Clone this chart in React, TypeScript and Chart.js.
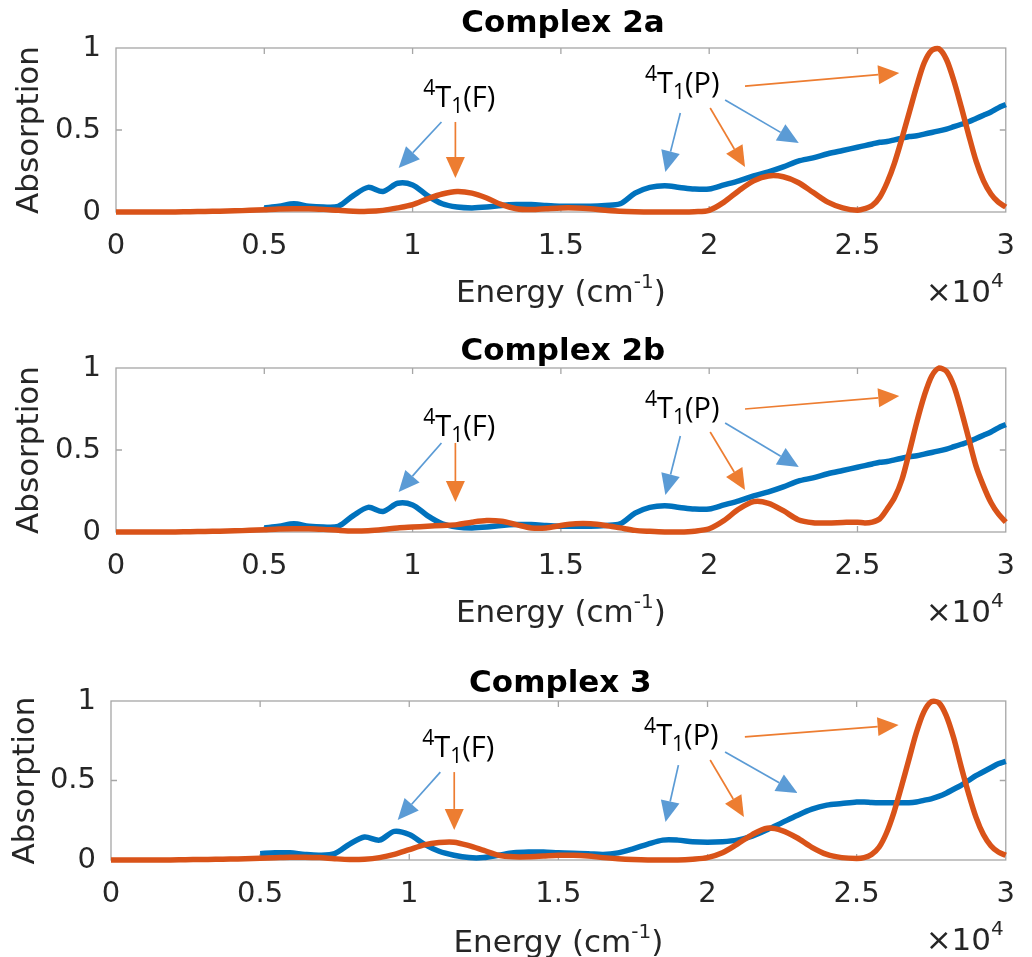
import React, { useEffect, useRef } from 'react';
import { Chart, registerables } from 'chart.js';

Chart.register(...registerables);

// Energy grid (cm^-1)
const energy = [
  0, 500, 1000, 1500, 2000, 2500, 3000, 3500, 4000, 4500,
  5000, 5500, 6000, 6500, 7000, 7500, 8000, 8500, 9000, 9500,
  10000, 10500, 11000, 11500, 12000, 12500, 13000, 13500, 14000, 14500,
  15000, 15500, 16000, 16500, 17000, 17500, 18000, 18500, 19000, 19500,
  20000, 20500, 21000, 21500, 22000, 22500, 23000, 23500, 24000, 24500,
  25000, 25250, 25500, 25750, 26000, 26250, 26500, 26750, 27000, 27250,
  27500, 27750, 28000, 28250, 28500, 28750, 29000, 29250, 29500, 29750,
  30000,
];

// Complex 2a
const blue2a = [
  null, null, null, null, null, null, null, null, null, null,
  0.025, 0.035, 0.05, 0.035, 0.03, 0.035, 0.1, 0.15, 0.125, 0.175,
  0.165, 0.1, 0.05, 0.03, 0.025, 0.03, 0.04, 0.045, 0.045, 0.04,
  0.035, 0.035, 0.035, 0.04, 0.05, 0.115, 0.15, 0.16, 0.15, 0.14,
  0.14, 0.165, 0.19, 0.22, 0.245, 0.275, 0.31, 0.33, 0.355, 0.375,
  0.395, 0.405, 0.415, 0.425, 0.43, 0.44, 0.45, 0.46, 0.465, 0.475,
  0.485, 0.495, 0.505, 0.52, 0.535, 0.55, 0.57, 0.59, 0.61, 0.635,
  0.655,
];
const orange2a = [
  0, 0, 0, 0, 0, 0.002, 0.003, 0.005, 0.007, 0.01,
  0.014, 0.018, 0.02, 0.02, 0.016, 0.01, 0.005, 0.004, 0.01, 0.025,
  0.045, 0.08, 0.11, 0.125, 0.115, 0.085, 0.045, 0.02, 0.015, 0.02,
  0.025, 0.025, 0.02, 0.01, 0.005, 0.002, 0, 0, 0, 0.002,
  0.01, 0.06, 0.13, 0.19, 0.22, 0.215, 0.18, 0.12, 0.06, 0.025,
  0.01, 0.02, 0.04, 0.09, 0.18, 0.3, 0.45, 0.61, 0.77, 0.91,
  0.985, 0.995, 0.93, 0.8, 0.64, 0.47, 0.31, 0.19, 0.11, 0.06,
  0.03,
];

// Complex 2b
const blue2b = [
  null, null, null, null, null, null, null, null, null, null,
  0.025, 0.035, 0.05, 0.035, 0.03, 0.035, 0.1, 0.15, 0.125, 0.175,
  0.165, 0.1, 0.05, 0.03, 0.025, 0.03, 0.04, 0.045, 0.045, 0.04,
  0.035, 0.035, 0.035, 0.04, 0.05, 0.115, 0.15, 0.16, 0.15, 0.14,
  0.14, 0.165, 0.19, 0.22, 0.245, 0.275, 0.31, 0.33, 0.355, 0.375,
  0.395, 0.405, 0.415, 0.425, 0.43, 0.44, 0.45, 0.46, 0.465, 0.475,
  0.485, 0.495, 0.505, 0.52, 0.535, 0.55, 0.57, 0.59, 0.61, 0.635,
  0.655,
];
const orange2b = [
  0, 0, 0, 0, 0, 0.002, 0.003, 0.005, 0.007, 0.01,
  0.014, 0.018, 0.02, 0.02, 0.016, 0.01, 0.006, 0.008, 0.015, 0.025,
  0.03, 0.035, 0.04, 0.045, 0.06, 0.07, 0.065, 0.045, 0.025, 0.025,
  0.04, 0.05, 0.05, 0.04, 0.025, 0.01, 0.004, 0, 0, 0.005,
  0.02, 0.07, 0.14, 0.185, 0.175, 0.13, 0.075, 0.057, 0.055, 0.058,
  0.06, 0.055, 0.06, 0.08, 0.14, 0.21, 0.32, 0.49, 0.67, 0.83,
  0.95, 1.0, 0.98, 0.89, 0.74, 0.57, 0.4, 0.28, 0.18, 0.11,
  0.06,
];

// Complex 3
const blue3 = [
  null, null, null, null, null, null, null, null, null, null,
  0.04, 0.045, 0.045, 0.035, 0.03, 0.04, 0.1, 0.145, 0.125, 0.18,
  0.16, 0.1, 0.055, 0.03, 0.015, 0.015, 0.03, 0.045, 0.05, 0.05,
  0.045, 0.042, 0.04, 0.035, 0.045, 0.07, 0.1, 0.125, 0.125, 0.115,
  0.112, 0.115, 0.125, 0.15, 0.19, 0.235, 0.28, 0.32, 0.345, 0.355,
  0.365, 0.365, 0.362, 0.36, 0.36, 0.36, 0.36, 0.36, 0.365, 0.375,
  0.385, 0.4, 0.42, 0.445, 0.47, 0.5, 0.53, 0.555, 0.58, 0.605,
  0.62,
];
const orange3 = [
  0, 0, 0, 0, 0, 0.002, 0.003, 0.004, 0.006, 0.008,
  0.011, 0.014, 0.017, 0.018, 0.015, 0.008, 0.003, 0.005, 0.015, 0.035,
  0.065, 0.095, 0.11, 0.112, 0.09, 0.06, 0.03, 0.02, 0.02, 0.025,
  0.03, 0.03, 0.025, 0.015, 0.008, 0.003, 0, 0, 0, 0.005,
  0.015, 0.045, 0.1, 0.16, 0.2, 0.185, 0.14, 0.08, 0.035, 0.015,
  0.01, 0.015, 0.035, 0.08, 0.17, 0.3, 0.46, 0.63, 0.8, 0.93,
  0.995, 0.99, 0.91, 0.77, 0.59, 0.42, 0.27, 0.16, 0.09, 0.05,
  0.03,
];

// Axis ticks
const xTickStep = 5000;
const xTickDivisor = 10000;
const yTickStep = 0.5;
const panelTitles = ['Complex 2a', 'Complex 2b', 'Complex 3'];

// Annotation anchors in data coordinates [energy, absorption]
type Pt = [number, number];
type ArrowSpec = { from: Pt; to: Pt; color: 'b' | 'o' };
type Ann = { labelF: Pt; labelP: Pt; arrows: ArrowSpec[] };

const ann2a: Ann = {
  labelF: [11577, 0.64],
  labelP: [19094, 0.726],
  arrows: [
    { from: [10973, 0.549], to: [9530, 0.268], color: 'b' },
    { from: [11443, 0.549], to: [11443, 0.207], color: 'o' },
    { from: [21208, 0.768], to: [26409, 0.848], color: 'o' },
    { from: [19027, 0.604], to: [18523, 0.244], color: 'b' },
    { from: [20034, 0.634], to: [21208, 0.274], color: 'o' },
    { from: [20537, 0.683], to: [23020, 0.421], color: 'b' },
  ],
};
const ann2b: Ann = {
  labelF: [11577, 0.585],
  labelP: [19094, 0.695],
  arrows: [
    { from: [10973, 0.543], to: [9530, 0.244], color: 'b' },
    { from: [11443, 0.543], to: [11443, 0.183], color: 'o' },
    { from: [21208, 0.75], to: [26409, 0.829], color: 'o' },
    { from: [19027, 0.585], to: [18523, 0.226], color: 'b' },
    { from: [20034, 0.61], to: [21208, 0.256], color: 'o' },
    { from: [20537, 0.665], to: [23020, 0.396], color: 'b' },
  ],
};
const ann3: Ann = {
  labelF: [11641, 0.65],
  labelP: [19124, 0.723],
  arrows: [
    { from: [11042, 0.553], to: [9612, 0.252], color: 'b' },
    { from: [11508, 0.553], to: [11508, 0.189], color: 'o' },
    { from: [21253, 0.774], to: [26408, 0.849], color: 'o' },
    { from: [19024, 0.597], to: [18592, 0.239], color: 'b' },
    { from: [20089, 0.629], to: [21220, 0.27], color: 'o' },
    { from: [20588, 0.679], to: [23016, 0.421], color: 'b' },
  ],
};

// Styling
const BLUE = '#0072BD';
const ORANGE = '#D95319';
const ARROW_BLUE = '#5B9BD5';
const ARROW_ORANGE = '#ED7D31';
const BOX = '#a6a6a6';
const TEXT = '#262626';
const FONT = "'DejaVu Sans', sans-serif";
const ANN_FONT = "'Open Sans', sans-serif";

type PanelSpec = {
  top: number;
  height: number;
  left: number;
  right: number;
  chartTop: number;
  chartBottom: number;
  titleBaseline: number;
  xLabelBaseline: number;
  x10Baseline: number;
  yTitlePad: number;
  title: string;
  blue: (number | null)[];
  orange: number[];
  ann: Ann;
};

const panels: PanelSpec[] = [
  { top: 0, height: 320, left: 116, right: 1010, chartTop: 48, chartBottom: 212, titleBaseline: 32, xLabelBaseline: 302, x10Baseline: 302, yTitlePad: 11, title: panelTitles[0], blue: blue2a, orange: orange2a, ann: ann2a },
  { top: 320, height: 320, left: 116, right: 1010, chartTop: 48, chartBottom: 212, titleBaseline: 40, xLabelBaseline: 302, x10Baseline: 302, yTitlePad: 11, title: panelTitles[1], blue: blue2b, orange: orange2b, ann: ann2b },
  { top: 640, height: 317, left: 111, right: 1013, chartTop: 61, chartBottom: 220, titleBaseline: 52, xLabelBaseline: 312, x10Baseline: 310, yTitlePad: 7, title: panelTitles[2], blue: blue3, orange: orange3, ann: ann3 },
];

type Part = { t: string; size: number; dy: number; bold?: boolean };

function drawRich(ctx: CanvasRenderingContext2D, parts: Part[], x: number, baseline: number, align: 'center' | 'right' | 'left', family: string, color: string) {
  let w = 0;
  const ws = parts.map((p) => {
    ctx.font = `${p.bold ? 'bold ' : ''}${p.size}px ${family}`;
    const m = ctx.measureText(p.t).width;
    w += m;
    return m;
  });
  let cx = align === 'center' ? x - w / 2 : align === 'right' ? x - w : x;
  ctx.textBaseline = 'alphabetic';
  ctx.textAlign = 'left';
  ctx.fillStyle = color;
  parts.forEach((p, i) => {
    ctx.font = `${p.bold ? 'bold ' : ''}${p.size}px ${family}`;
    ctx.fillText(p.t, cx, baseline + p.dy);
    cx += ws[i];
  });
}

function drawArrow(ctx: CanvasRenderingContext2D, x1: number, y1: number, x2: number, y2: number, color: string) {
  const ang = Math.atan2(y2 - y1, x2 - x1);
  const L = 21;
  const W = 9.5;
  const bx = x2 - L * Math.cos(ang);
  const by = y2 - L * Math.sin(ang);
  ctx.strokeStyle = color;
  ctx.lineWidth = 1.7;
  ctx.beginPath();
  ctx.moveTo(x1, y1);
  ctx.lineTo(bx, by);
  ctx.stroke();
  ctx.fillStyle = color;
  ctx.beginPath();
  ctx.moveTo(x2, y2);
  ctx.lineTo(bx + W * Math.sin(ang), by - W * Math.cos(ang));
  ctx.lineTo(bx - W * Math.sin(ang), by + W * Math.cos(ang));
  ctx.closePath();
  ctx.fill();
}

function stateLabel(letter: string): Part[] {
  return [
    { t: '4', size: 21, dy: -12 },
    { t: 'T', size: 29, dy: 0 },
    { t: '1', size: 21, dy: 6 },
    { t: `(${letter})`, size: 29, dy: 0 },
  ];
}

function makeDecor(p: PanelSpec) {
  return {
    id: 'decor',
    beforeDatasetsDraw(chart: any) {
      const { ctx, chartArea: a, scales } = chart;
      ctx.save();
      ctx.strokeStyle = BOX;
      ctx.lineWidth = 1.3;
      ctx.strokeRect(a.left, a.top, a.right - a.left, a.bottom - a.top);
      const tl = 6;
      const xt = scales.x.ticks;
      ctx.beginPath();
      xt.forEach((t: any, i: number) => {
        if (i === 0 || i === xt.length - 1) return;
        const px = scales.x.getPixelForValue(t.value);
        ctx.moveTo(px, a.top);
        ctx.lineTo(px, a.top + tl);
        ctx.moveTo(px, a.bottom);
        ctx.lineTo(px, a.bottom - tl);
      });
      const yt = scales.y.ticks;
      yt.forEach((t: any, i: number) => {
        if (i === 0 || i === yt.length - 1) return;
        const py = scales.y.getPixelForValue(t.value);
        ctx.moveTo(a.left, py);
        ctx.lineTo(a.left + tl, py);
        ctx.moveTo(a.right, py);
        ctx.lineTo(a.right - tl, py);
      });
      ctx.stroke();
      ctx.restore();
    },
    afterDatasetsDraw(chart: any) {
      const { ctx, chartArea: a, scales } = chart;
      const sx = (v: number) => scales.x.getPixelForValue(v);
      const sy = (v: number) => scales.y.getPixelForValue(v);
      const cx = (a.left + a.right) / 2;
      ctx.save();
      drawRich(ctx, [{ t: p.title, size: 31, dy: 0, bold: true }], cx + 2, p.titleBaseline, 'center', FONT, '#000');
      drawRich(
        ctx,
        [
          { t: 'Energy (cm', size: 31, dy: 0 },
          { t: '-1', size: 20, dy: -14 },
          { t: ')', size: 31, dy: 0 },
        ],
        cx,
        p.xLabelBaseline,
        'center',
        FONT,
        TEXT
      );
      drawRich(
        ctx,
        [
          { t: '×10', size: 31, dy: 0 },
          { t: '4', size: 20, dy: -15 },
        ],
        a.right - 2,
        p.x10Baseline,
        'right',
        FONT,
        TEXT
      );
      p.ann.arrows.forEach((ar) => {
        drawArrow(ctx, sx(ar.from[0]), sy(ar.from[1]), sx(ar.to[0]), sy(ar.to[1]), ar.color === 'b' ? ARROW_BLUE : ARROW_ORANGE);
      });
      drawRich(ctx, stateLabel('F'), sx(p.ann.labelF[0]), sy(p.ann.labelF[1]), 'center', ANN_FONT, '#000');
      drawRich(ctx, stateLabel('P'), sx(p.ann.labelP[0]), sy(p.ann.labelP[1]), 'center', ANN_FONT, '#000');
      ctx.restore();
    },
  };
}

function buildConfig(p: PanelSpec): any {
  const orangeData = energy.map((e, i) => ({ x: e, y: p.orange[i] }));
  const blueData = energy
    .map((e, i) => ({ x: e, y: p.blue[i] }))
    .filter((d) => d.y !== null);
  return {
    type: 'line',
    data: {
      datasets: [
        {
          label: 'Calculated',
          data: orangeData,
          borderColor: ORANGE,
          borderWidth: 5.5,
          pointRadius: 0,
          tension: 0.3,
          fill: false,
          clip: false,
          order: 0,
        },
        {
          label: 'Experimental',
          data: blueData,
          borderColor: BLUE,
          borderWidth: 5.5,
          pointRadius: 0,
          tension: 0.3,
          fill: false,
          clip: false,
          order: 1,
        },
      ],
    },
    options: {
      responsive: false,
      animation: false,
      devicePixelRatio: 1,
      layout: { padding: { top: p.chartTop, left: 0, right: 1032 - p.right, bottom: 0 } },
      plugins: {
        legend: { display: false },
        tooltip: { enabled: false },
        title: { display: false },
      },
      scales: {
        x: {
          type: 'linear',
          min: 0,
          max: 30000,
          ticks: {
            stepSize: xTickStep,
            autoSkip: false,
            maxRotation: 0,
            padding: 17,
            color: TEXT,
            font: { family: FONT, size: 29 },
            callback: (v: any) => String(Number(v) / xTickDivisor),
          },
          grid: { display: false, drawTicks: false },
          border: { display: false },
          afterFit: (s: any) => {
            s.height = p.height - p.chartBottom;
          },
        },
        y: {
          type: 'linear',
          min: 0,
          max: 1,
          ticks: {
            stepSize: yTickStep,
            padding: 15,
            color: TEXT,
            font: { family: FONT, size: 29 },
            callback: (v: any) => String(v),
          },
          grid: { display: false, drawTicks: false },
          border: { display: false },
          title: {
            display: true,
            text: 'Absorption',
            color: TEXT,
            font: { family: FONT, size: 31 },
            padding: { top: p.yTitlePad, bottom: 0 },
          },
          afterFit: (s: any) => {
            s.width = p.left;
          },
        },
      },
    },
    plugins: [makeDecor(p)],
  };
}

function Panel({ spec }: { spec: PanelSpec }) {
  const ref = useRef<HTMLCanvasElement>(null);
  useEffect(() => {
    if (!ref.current) return;
    const chart = new Chart(ref.current, buildConfig(spec));
    return () => chart.destroy();
  }, [spec]);
  return (
    <canvas
      ref={ref}
      width={1032}
      height={spec.height}
      style={{ position: 'absolute', left: 0, top: spec.top, width: 1032, height: spec.height, display: 'block' }}
    />
  );
}

export default function App() {
  return (
    <div style={{ position: 'absolute', left: 0, top: 0, width: 1032, height: 957, background: '#fff' }}>
      {panels.map((p, i) => (
        <Panel key={i} spec={p} />
      ))}
    </div>
  );
}
